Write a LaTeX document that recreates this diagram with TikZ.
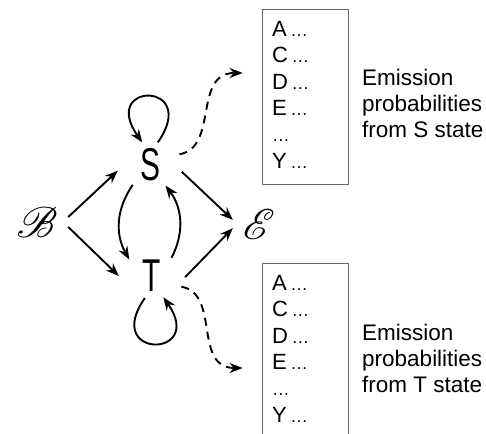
\documentclass[tikz,border=0pt]{standalone}
\usepackage{fontspec}
\setmainfont{Liberation Sans}
\usepackage{mathrsfs}
\usetikzlibrary{arrows.meta,shapes.geometric}

\newcommand{\dd}{\scalebox{0.8}{\ldots}}
\newcommand{\aalist}{\begin{tabular}{@{}l@{}}A\,\dd\\C\,\dd\\D\,\dd\\E\,\dd\\\dd\\Y\,\dd\end{tabular}}

\tikzset{
	hmmstate/.style={ellipse,inner sep=0pt,minimum width=66pt,minimum height=44pt,font=\fontsize{46}{46}\selectfont},
	endstate/.style={inner sep=0pt,minimum height=40pt},
	probbox/.style={draw=black!60,line width=0.8pt,inner xsep=10pt,inner ysep=0pt,minimum height=175pt,text width=66pt,align=left,font=\fontsize{22}{26.4}\selectfont},
	emtext/.style={inner sep=0pt,align=left,anchor=west,font=\fontsize{22.5}{26}\selectfont},
	trans/.style={-{Stealth[length=13pt,width=10pt]},line width=1.9pt},
	emit/.style={trans,dash pattern=on 8pt off 6pt},
}

\begin{document}
\begin{tikzpicture}[x=1pt,y=1pt]
		\useasboundingbox (0,0) rectangle (486,433);
		\clip (0,0) rectangle (486,433);
		\node [hmmstate] (S) at (150,268) {\scalebox{0.65}[1]{S}};
		\node [hmmstate] (T) at (152,157) {\scalebox{0.65}[1]{T}};
		\node [endstate,minimum width=62pt] (B) at (37,211) {\scalebox{4.3}{$\mathscr{B}$}};
		\node [endstate,minimum width=52pt] (E) at (259,209) {\scalebox{4.3}{$\mathscr{E}$}};
		\node [probbox] (pS) at (305,336) {\aalist};
		\node [probbox] (pT) at (305,82) {\aalist};
		\node [emtext] (cS) at (362,330) {Emission\\probabilities\\from S state};
		\node [emtext] (cT) at (362,75) {Emission\\probabilities\\from T state};
		\draw [trans] (B.9) -- (S.190);
		\draw [trans] (B.-9) -- (T.180);
		\draw [trans] (S.-12) -- (E.171);
		\draw [trans] (T.-2) -- (E.189);
		\draw [trans] (S.229) to[bend right=32] (T.144);
		\draw [trans] (T.43) to[bend right=32] (S.-53);
		\draw [trans] (S.71) to[out=55,in=125,distance=75pt] (S.109);
		\draw [trans] (T.252) to[out=235,in=305,distance=75pt] (T.-62);
		\draw [emit] (S.20) to[out=10,in=180,out distance=40pt,in distance=50pt] ([shift={(-19,24)}]pS.west);
		\draw [emit] (T.-20) to[out=-10,in=180,out distance=40pt,in distance=50pt] ([shift={(-19,-17)}]pT.west);
	\end{tikzpicture}
\end{document}
